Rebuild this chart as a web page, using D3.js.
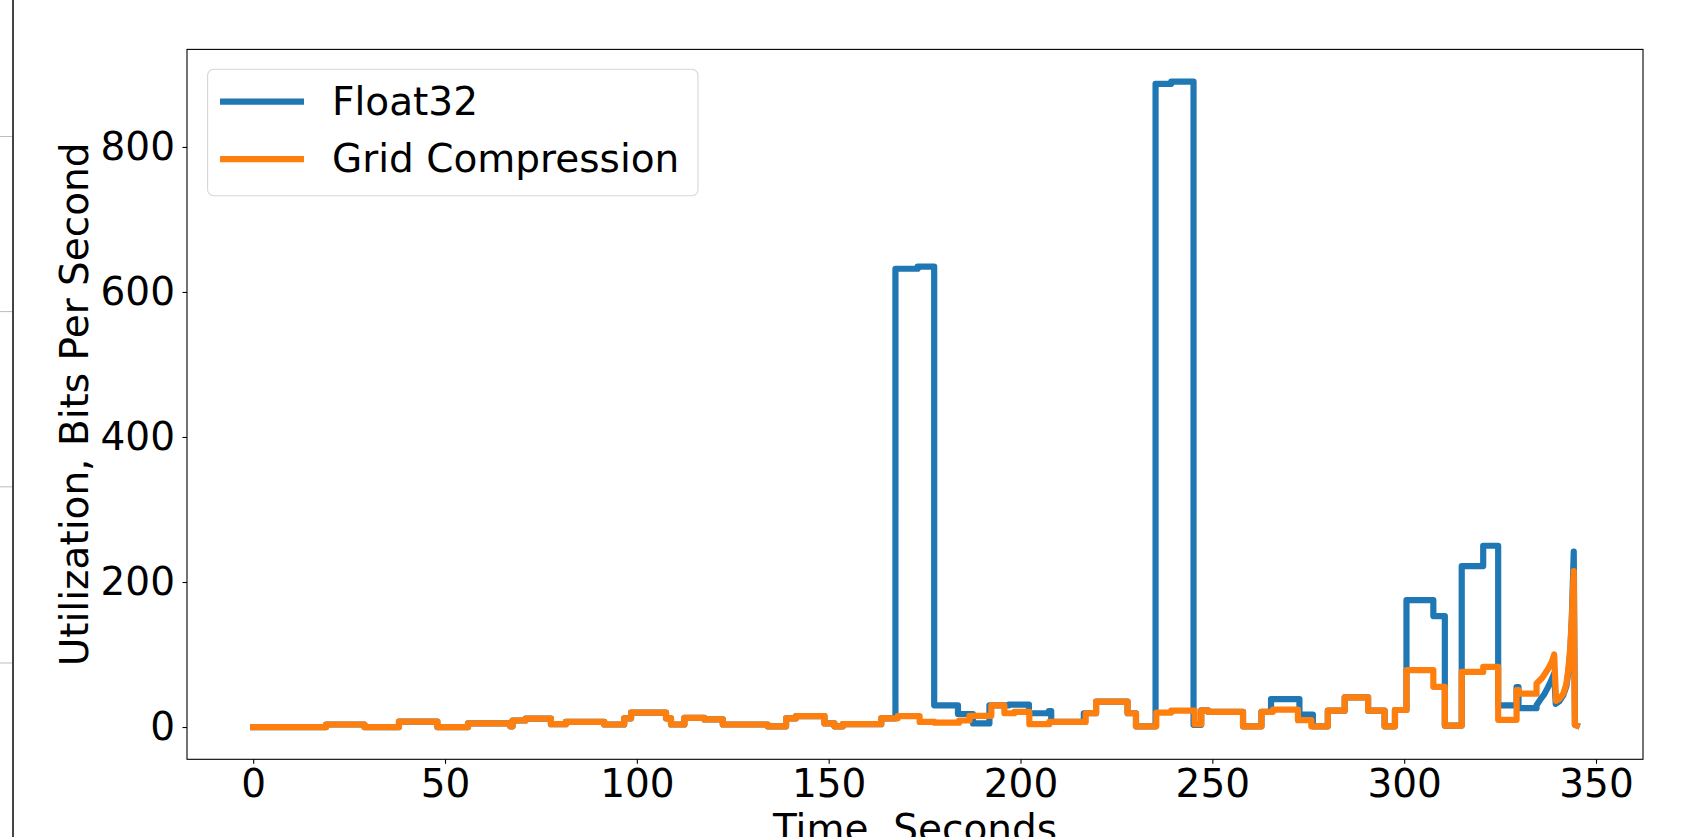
<!DOCTYPE html>
<html>
<head>
<meta charset="utf-8">
<script src="https://cdn.jsdelivr.net/npm/d3@7"></script>
<style>
  html, body { margin: 0; padding: 0; background: #fff; overflow: hidden; }
  svg { display: block; font-family: "DejaVu Sans", sans-serif; }
</style>
</head>
<body>
<div id="chart"></div>
<script>
// step series: value holds from time[i] until time[i+1]
const gridTime = [0, 19, 29, 38, 48, 56, 67, 67.6, 71, 77.6, 81.5, 91.5, 96.7, 98.5, 107.6, 108.9, 112.4, 117.6,
  122.4, 134.1, 138.9, 141.5, 148.9, 151.5, 153.7, 163.7, 168, 173.7, 177.6, 184, 186.7, 192.4, 195.8, 198.4,
  202.3, 207.5, 217, 219.7, 227.9, 230.1, 235.4, 239.3, 245.4, 247.1, 248.9, 258, 262.8, 265.8, 272.3, 275.8,
  280.1, 284.5, 290.6, 294.9, 297.6, 300.6, 307.6, 310.6, 315, 320.6, 324.5, 329.3, 329.8];
const gridRate = [0, 3.5, 0, 7.5, 0, 5, 1, 9, 11.5, 4, 7, 3.5, 12, 20, 12, 3.5, 12.5, 10.5,
  3.5, 1, 12, 15, 5, 1, 4, 12, 15, 7, 6, 9, 15.5, 30, 19, 21,
  4, 7, 19, 35, 19, 1, 20, 22.5, 4, 23, 21, 1, 21, 24, 9.5, 1,
  22.5, 41, 22.5, 1, 23.5, 78.5, 55.5, 2, 76, 83, 10, 51, 46];
// last seconds are not steps
const gridTailTime = [334.5, 334.5, 336, 337.5, 338.5, 339.1, 339.6, 340.5, 341.5, 342.3, 342.8, 343.3, 343.7, 344.2, 344.5, 345];
const gridTailRate = [46, 60, 68, 80, 90, 100, 36, 39, 46, 60, 80, 110, 150, 215, 3, 2];

const floatTime = [0, 19, 29, 38, 48, 56, 67, 67.6, 71, 77.6, 81.5, 91.5, 96.7, 98.5, 107.6, 108.9, 112.4, 117.6,
  122.4, 134.1, 138.9, 141.5, 148.9, 151.5, 153.7, 163.7, 167.4, 173.2, 177.5, 183.7, 187.6, 191.9, 197,
  202.2, 207.4, 208, 216.5, 219.7, 227.9, 230.1, 235.2, 239.3, 245.1, 247.1, 248.9, 258, 262.8, 265.3, 272.7,
  276.2, 280.1, 284.5, 290.6, 294.9, 297.6, 300.6, 307.6, 310.6, 315, 320.6, 324.5, 329.3, 329.8];
const floatRate = [0, 3.5, 0, 7.5, 0, 5, 1, 9, 11.5, 4, 7, 3.5, 12, 20, 12, 3.5, 12.5, 10.5,
  3.5, 1, 12, 15, 5, 1, 4, 12, 632, 635, 30, 18, 5, 30, 31,
  19, 22, 7, 19, 35, 19, 1, 887, 890, 3, 23, 21, 1, 21, 38.5, 17.3,
  1, 22.5, 41, 22.5, 1, 23.5, 175, 153, 2, 222, 250, 30, 55, 26];
const floatTailTime = [334.5, 334.5, 335.5, 336.5, 337.5, 338.5, 339.1, 339.5, 340.5, 341.5, 342.3, 342.8, 343.3, 343.7, 344.2, 344.5, 345];
const floatTailRate = [26, 30, 38, 45, 55, 66, 74, 32, 36, 44, 57, 76, 105, 150, 242, 3, 2];

const xTicks = [0, 50, 100, 150, 200, 250, 300, 350];
const yTicks = [0, 200, 400, 600, 800];
const seriesNames = ["Float32", "Grid Compression"];
const seriesColors = ["#1f77b4", "#ff7f0e"];

const W = 1685, H = 837;
const plot = { left: 187, top: 49.4, right: 1643, bottom: 759.3 };
const lw = 6.2;

function toPoints(time, rate, tailTime, tailRate) {
  let pts = [];
  for (let i = 0; i < time.length; i++) {
    let end = i < time.length - 1 ? time[i + 1] : tailTime[0];
    pts.push([time[i], rate[i]]);
    pts.push([end, rate[i]]);
  }
  for (let i = 0; i < tailTime.length; i++) pts.push([tailTime[i], tailRate[i]]);
  return pts;
}

const floatPts = toPoints(floatTime, floatRate, floatTailTime, floatTailRate);
const gridPts = toPoints(gridTime, gridRate, gridTailTime, gridTailRate);
const allPts = floatPts.concat(gridPts);

// matplotlib style 5% margins
function padded(ext) {
  let m = (ext[1] - ext[0]) * 0.05;
  return [ext[0] - m, ext[1] + m];
}

const x = d3.scaleLinear()
  .domain(padded(d3.extent(allPts, d => d[0])))
  .range([plot.left, plot.right]);
const y = d3.scaleLinear()
  .domain(padded(d3.extent(allPts, d => d[1])))
  .range([plot.bottom, plot.top]);

const svg = d3.select("#chart").append("svg")
  .attr("width", W).attr("height", H);

// edge of a neighbouring figure, cut off on the left
const edge = svg.append("g");
[136.5, 311.6, 486.8, 663].forEach(v => {
  edge.append("line").attr("x1", 0).attr("x2", 12).attr("y1", v).attr("y2", v)
    .attr("stroke", "#bdbdbd").attr("stroke-width", 1);
});
edge.append("line").attr("x1", 13).attr("x2", 13).attr("y1", 0).attr("y2", H)
  .attr("stroke", "#444").attr("stroke-width", 2);

svg.append("clipPath").attr("id", "plotclip").append("rect")
  .attr("x", plot.left).attr("y", plot.top)
  .attr("width", plot.right - plot.left).attr("height", plot.bottom - plot.top);

const line = d3.line().x(d => x(d[0])).y(d => y(d[1]));

const lines = svg.append("g").attr("clip-path", "url(#plotclip)");
[floatPts, gridPts].forEach((pts, i) => {
  lines.append("path")
    .datum(pts)
    .attr("d", line)
    .attr("fill", "none")
    .attr("stroke", seriesColors[i])
    .attr("stroke-width", lw)
    .attr("stroke-linejoin", "round")
    .attr("stroke-linecap", "square");
});

// axes
const xAxis = svg.append("g")
  .attr("transform", "translate(0," + plot.bottom + ")")
  .call(d3.axisBottom(x).tickValues(xTicks).tickSize(4.5).tickPadding(6).tickSizeOuter(0));
const yAxis = svg.append("g")
  .attr("transform", "translate(" + plot.left + ",0)")
  .call(d3.axisLeft(y).tickValues(yTicks).tickSize(4.5).tickPadding(7.5).tickSizeOuter(0));
[xAxis, yAxis].forEach(a => {
  a.select(".domain").remove();
  a.selectAll(".tick line").attr("stroke", "#000").attr("stroke-width", 1.1);
  a.selectAll(".tick text").attr("fill", "#000").style("font-size", "39px")
    .style("font-family", "DejaVu Sans");
});

svg.append("rect")
  .attr("x", plot.left).attr("y", plot.top)
  .attr("width", plot.right - plot.left).attr("height", plot.bottom - plot.top)
  .attr("fill", "none").attr("stroke", "#000").attr("stroke-width", 1.1);

svg.append("text")
  .attr("x", (plot.left + plot.right) / 2).attr("y", 842)
  .attr("text-anchor", "middle").style("font-size", "39px")
  .text("Time, Seconds");
svg.append("text")
  .attr("transform", "translate(88," + (plot.top + plot.bottom) / 2 + ") rotate(-90)")
  .attr("text-anchor", "middle").style("font-size", "39px")
  .text("Utilization, Bits Per Second");

// legend
const legend = svg.append("g");
legend.append("rect")
  .attr("x", 207.6).attr("y", 69.3).attr("width", 490.4).attr("height", 126.4)
  .attr("rx", 6).attr("fill", "#fff").attr("fill-opacity", 0.8)
  .attr("stroke", "#d6d6d6").attr("stroke-width", 1.1);
seriesNames.forEach((name, i) => {
  let ly = 101.7 + i * 57.5;
  legend.append("line")
    .attr("x1", 220).attr("x2", 304).attr("y1", ly).attr("y2", ly)
    .attr("stroke", seriesColors[i]).attr("stroke-width", lw);
  legend.append("text")
    .attr("x", 332).attr("y", ly + 13)
    .style("font-size", "39px")
    .text(name);
});
</script>
</body>
</html>
